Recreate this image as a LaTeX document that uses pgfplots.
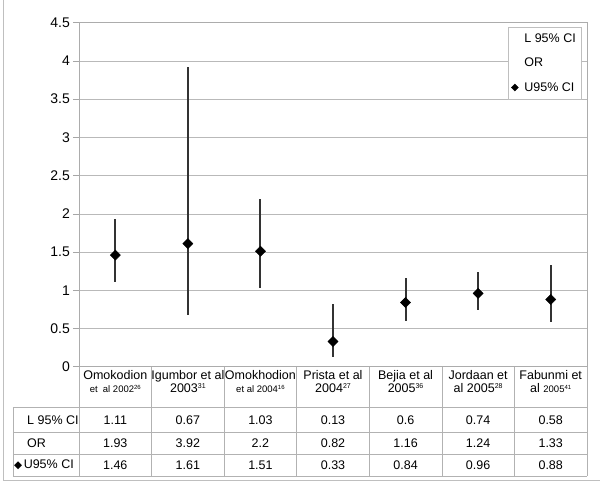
\documentclass[border=0pt]{standalone}
\usepackage{fontspec}
\setmainfont{Liberation Sans}
\newfontfamily\sym{DejaVu Sans}
\usepackage{pgfplots}
\pgfplotsset{compat=1.18}
\usepackage{pgfplotstable}

\newcommand\fs[1]{\fontsize{#1}{#1}\selectfont}

% lo = L 95% CI, hi = OR row, mid = U95% CI row (diamond)
\pgfplotstableread{
x lo   hi   mid
1 1.11 1.93 1.46
2 0.67 3.92 1.61
3 1.03 2.2  1.51
4 0.13 0.82 0.33
5 0.6  1.16 0.84
6 0.74 1.24 0.96
7 0.58 1.33 0.88
}\studies

\begin{document}
\begin{tikzpicture}
\useasboundingbox (-79pt,-115.3pt) rectangle (521pt,366.7pt);
\draw[gray!50] (-76pt,366.7pt) -- (-76pt,-113.3pt) -- (521pt,-113.3pt);

\begin{axis}[
    scale only axis,
    width=508pt, height=344pt,
    xmin=0.5, xmax=7.5,
    ymin=0, ymax=4.5,
    ytick={0,0.5,1,1.5,2,2.5,3,3.5,4,4.5},
    xtick={1,2,3,4,5,6,7},
    xticklabels={
      {Omokodion\\{\fs{9.5}et~~al 2002\raisebox{3.5pt}{\fs{6}26}}},
      {Igumbor et al\\2003\raisebox{4.5pt}{\fs{7}31}},
      {Omokhodion\\{\fs{9.5}et al 2004\raisebox{3.5pt}{\fs{6}16}}},
      {Prista et al\\2004\raisebox{4.5pt}{\fs{7}27}},
      {Bejia et al\\2005\raisebox{4.5pt}{\fs{7}36}},
      {Jordaan et\\al 2005\raisebox{4.5pt}{\fs{7}28}},
      {Fabunmi et\\al {\fs{9.5}2005\raisebox{3.5pt}{\fs{6}41}}}
    },
    xtick style={draw=none},
    xticklabel style={align=center, font=\fontsize{12.5}{13.5}\selectfont, inner sep=3.5pt},
    ytick pos=left, ytick align=outside,
    major tick length=6pt,
    ytick style={gray!70, line width=0.6pt},
    yticklabel style={font=\fs{14}, inner sep=3pt},
    /pgf/number format/assume math mode=true,
    ymajorgrids,
    grid style={gray!55, line width=0.6pt},
    axis line style={gray!65, line width=0.7pt},
    clip=false,
    legend style={at={(1,1)}, anchor=north east, xshift=-6pt, yshift=-4.5pt,
      draw=gray!50, fill=white, font=\fs{12.5}, inner xsep=3pt, inner ysep=4.5pt,
      row sep=10pt, /tikz/every odd column/.append style={column sep=4pt}},
    legend cell align=left,
    legend image code/.code={\draw[#1, mark repeat=1] plot coordinates {(0pt,0pt)};},
]
\addlegendimage{draw=none, mark=none}
\addlegendentry{L 95\% CI}
\addlegendimage{draw=none, mark=none}
\addlegendentry{OR}
\addlegendimage{black, mark=square*, mark size=2.5pt, mark options={rotate=45}}
\addlegendentry{U95\% CI}

\addplot[black, only marks, mark=square*, mark size=3.6pt, mark options={rotate=45},
  forget plot,
  error bars/.cd, y dir=both, y explicit, error mark=none,
  error bar style={line width=2pt, black!80}]
  table[x=x, y=mid,
        y error plus expr=\thisrow{hi}-\thisrow{mid},
        y error minus expr=\thisrow{mid}-\thisrow{lo}] {\studies};
\end{axis}

% data table under the chart
\foreach \k in {0,...,7}
  \draw[gray!60, line width=0.7pt] ({\k*72.571pt},0pt) -- ({\k*72.571pt},-109.5pt);
\foreach \y in {-40.5,-65.5,-87.5,-109.5}
  \draw[gray!60, line width=0.7pt] (-66pt,\y pt) -- (508pt,\y pt);
\draw[gray!60, line width=0.7pt] (-66pt,-40.5pt) -- (-66pt,-109.5pt);

\node[anchor=west, font=\fs{12.5}, inner sep=0pt] at (-52pt,-53pt) {L 95\% CI};
\node[anchor=west, font=\fs{12.5}, inner sep=0pt] at (-52pt,-76.5pt) {OR};
\node[anchor=west, font=\fs{12.5}, inner sep=0pt] at (-65pt,-98.5pt) {{\sym\fs{10.5}◆}\kern1.5pt U95\% CI};

\foreach \i in {0,...,6} {
  \pgfplotstablegetelem{\i}{lo}\of\studies \let\vlo\pgfplotsretval
  \pgfplotstablegetelem{\i}{hi}\of\studies \let\vhi\pgfplotsretval
  \pgfplotstablegetelem{\i}{mid}\of\studies \let\vmid\pgfplotsretval
  \node[font=\fs{12.5}] at ({(\i+0.5)*72.571pt},-53pt) {\vlo};
  \node[font=\fs{12.5}] at ({(\i+0.5)*72.571pt},-76.5pt) {\vhi};
  \node[font=\fs{12.5}] at ({(\i+0.5)*72.571pt},-98.5pt) {\vmid};
}
\end{tikzpicture}
\end{document}
